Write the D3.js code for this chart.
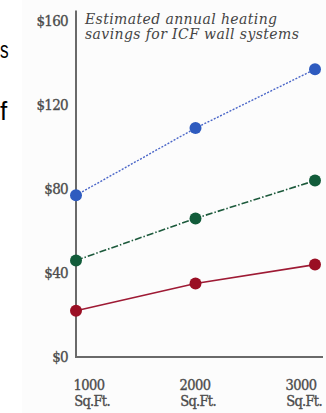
<!DOCTYPE html>
<html>
<head>
<meta charset="utf-8">
<script src="https://cdn.jsdelivr.net/npm/d3@7"></script>
<style>
  html, body { margin: 0; padding: 0; background: #ffffff; }
  svg { display: block; }
  .tick-label { font-family: "DejaVu Serif Condensed", "DejaVu Serif", serif; fill: #474747; stroke: #555; stroke-width: 0.35; }
  .title { font-family: "DejaVu Serif", serif; font-style: italic; fill: #444; }
  .side { font-family: "Liberation Sans", Arial, sans-serif; fill: #000; }
</style>
</head>
<body>
<script>
// Square footage of the homes compared
const sizes = [1000, 2000, 3000];
const sizeLabels = ["1000", "2000", "3000"];
const sizeUnit = "Sq.Ft.";

// Annual heating savings in dollars, one series per wall system
const seriesHigh = [77, 109, 137];
const seriesMid = [46, 66, 84];
const seriesLow = [22, 35, 44];

// Dollar ticks on the vertical axis
const dollarTicks = [0, 40, 80, 120, 160];
const titleLines = ["Estimated annual heating", "savings for ICF wall systems"];

const W = 326, H = 413;
const svg = d3.select("body").append("svg").attr("width", W).attr("height", H);

// faint panel behind the chart
svg.append("rect").attr("x", 22).attr("y", 0).attr("width", W - 22).attr("height", H).attr("fill", "#fcfcfc");

// fragments of neighbouring copy on the left edge
svg.append("text").attr("class", "side").attr("x", 0).attr("y", 58).attr("font-size", 23).attr("transform", "translate(0,58) scale(0.75,1) translate(0,-58)").text("s");
svg.append("text").attr("class", "side").attr("x", 0).attr("y", 120).attr("font-size", 26).text("f");

const x = d3.scaleLinear().domain([1000, 3000]).range([76, 315]);
const y = d3.scaleLinear().domain([0, 160]).range([357, 21]);
const xLabel = d3.scaleLinear().domain([1000, 3000]).range([89, 301]);

// axes
const axisColor = "#6a6a6a";
svg.append("line").attr("x1", x(1000)).attr("x2", x(1000)).attr("y1", y(165)).attr("y2", y(0) + 1)
  .attr("stroke", axisColor).attr("stroke-width", 2);
svg.append("line").attr("x1", x(1000) - 1).attr("x2", x(3000) + 8).attr("y1", y(0)).attr("y2", y(0))
  .attr("stroke", axisColor).attr("stroke-width", 2);

// y tick labels
svg.selectAll(".ylab").data(dollarTicks).join("text")
  .attr("class", "tick-label")
  .attr("x", 68).attr("y", d => y(d) + 5)
  .attr("text-anchor", "end").attr("font-size", 15).attr("letter-spacing", -0.7)
  .text(d => "$" + d);

// x tick labels: number above, unit below
svg.selectAll(".xnum").data(sizes).join("text")
  .attr("class", "tick-label")
  .attr("x", d => xLabel(d)).attr("y", 390)
  .attr("text-anchor", "middle").attr("font-size", 14.5).attr("letter-spacing", -0.5)
  .text((d, i) => sizeLabels[i]);
svg.selectAll(".xunit").data(sizes).join("text")
  .attr("class", "tick-label")
  .attr("x", d => xLabel(d) + 3).attr("y", 406)
  .attr("text-anchor", "middle").attr("font-size", 14.5).attr("letter-spacing", -0.7)
  .text(sizeUnit);

// title
svg.selectAll(".title").data(titleLines).join("text")
  .attr("class", "title").attr("x", 85).attr("y", (d, i) => 24 + i * 15)
  .attr("font-size", 14).attr("letter-spacing", 0.4).text(d => d);

const series = [
  { values: seriesHigh, line: "#4a66c8", dot: "#2e5bbf", dash: "2,1.5", width: 1.4 },
  { values: seriesMid, line: "#1d5a3c", dot: "#125c3a", dash: "7,2,1.5,2", width: 1.6 },
  { values: seriesLow, line: "#9e1a34", dot: "#9a0f24", dash: null, width: 1.6 }
];

const line = d3.line().x((d, i) => x(sizes[i])).y(d => y(d));

series.forEach(s => {
  svg.append("path").datum(s.values)
    .attr("d", line).attr("fill", "none")
    .attr("stroke", s.line).attr("stroke-width", s.width)
    .attr("stroke-dasharray", s.dash);
  svg.selectAll(null).data(s.values).join("circle")
    .attr("cx", (d, i) => x(sizes[i])).attr("cy", d => y(d))
    .attr("r", 6).attr("fill", s.dot);
});
</script>
</body>
</html>
